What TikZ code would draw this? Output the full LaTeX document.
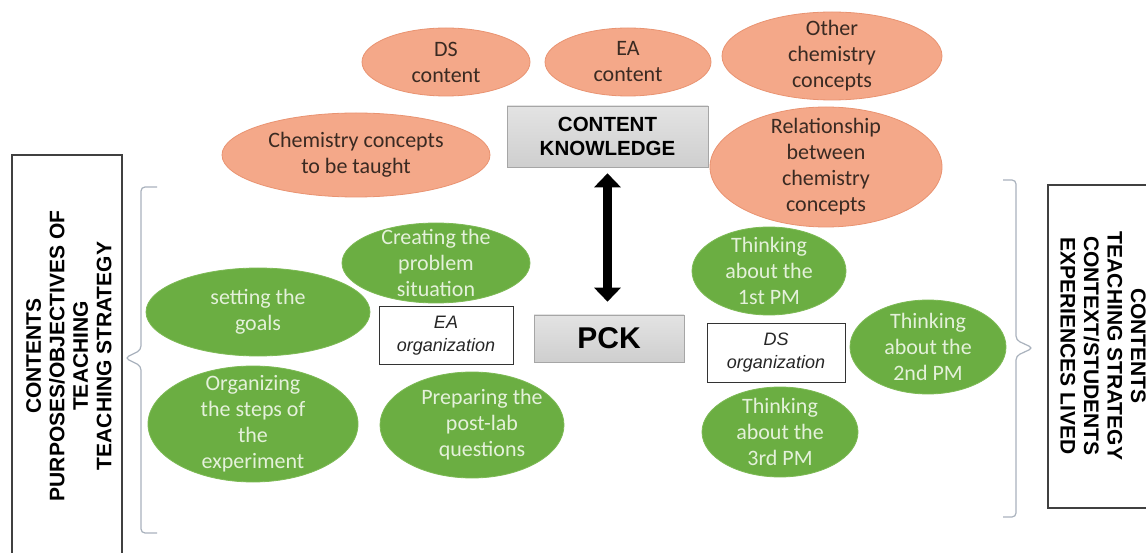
\documentclass[tikz,border=0pt]{standalone}
\usepackage{fontspec}
\setmainfont{Liberation Sans}
\newfontfamily\calib{Carlito}
\usetikzlibrary{shapes.geometric,arrows.meta,calc}
\definecolor{orfill}{HTML}{F4A889}
\definecolor{ordraw}{HTML}{E99371}
\definecolor{ortext}{HTML}{3A2A22}
\definecolor{grfill}{HTML}{6BAE42}
\definecolor{grdraw}{HTML}{7DBA55}
\definecolor{grtext}{HTML}{E4F1DA}
\definecolor{boxgray}{HTML}{C9C9C9}
\definecolor{bracecol}{HTML}{A9B2BD}
\begin{document}
\begin{tikzpicture}[x=1pt,y=-1pt,
 oval/.style={ellipse, inner sep=0pt},
 orov/.style={oval, fill=orfill, draw=ordraw, line width=0.8pt},
 grov/.style={oval, fill=grfill, draw=grdraw, line width=0.8pt},
 ortxt/.style={align=center, text=ortext, inner sep=0pt, font=\calib\fontsize{22}{26}\selectfont},
 grtxt/.style={align=center, text=grtext, inner sep=0pt, font=\calib\fontsize{22}{26}\selectfont},
 graybox/.style={top color=gray!22, bottom color=gray!38, draw=gray!70, line width=0.6pt, inner sep=0pt, align=center, font=\bfseries\fontsize{20.5}{24}\selectfont},
 orgbox/.style={draw=black!80, line width=1pt, fill=white, inner sep=0pt, align=center, text=black!85, font=\itshape\fontsize{18}{23}\selectfont},
 sidetxt/.style={align=center, inner sep=0pt, font=\bfseries\fontsize{21}{23.5}\selectfont},
 frame/.style={draw=black!75, line width=1.1pt},
 bracestyle/.style={draw=bracecol, line width=1.2pt, rounded corners=4pt}
]
\useasboundingbox[fill=white] (0,0) rectangle (1146,553);

% orange ellipses
\node[orov, minimum width=168, minimum height=68] (dsc) at (446,62) {};
\node[ortxt] (dsct) at (dsc) {DS\\content};
\node[orov, minimum width=166, minimum height=68] (eac) at (628,62) {};
\node[ortxt] (eact) at (eac) {EA\\content};
\node[orov, minimum width=220, minimum height=88] (oth) at (832,56) {};
\node[ortxt] (otht) at (oth) {Other\\chemistry\\concepts};
\node[orov, minimum width=268, minimum height=84] (chem) at (356,155) {};
\node[ortxt] (chemt) at (chem) {Chemistry concepts\\to be taught};
\node[orov, minimum width=232, minimum height=120] (rel) at (826,167) {};
\node[ortxt] (relt) at (rel) {Relationship\\between\\chemistry\\concepts};

% green ellipses
\node[grov, minimum width=188, minimum height=80] (cre) at (436,263) {};
\node[grtxt] (cret) at (cre) {Creating the\\problem\\situation};
\node[grov, minimum width=224, minimum height=88] (set) at (258,312) {};
\node[grtxt] (sett) at (set) {setting the\\goals};
\node[grov, minimum width=210, minimum height=116] (org) at (253,424) {};
\node[grtxt] (orgt) at (org) {Organizing\\the steps of\\the\\experiment};
\node[grov, minimum width=184, minimum height=106] (pre) at (472,425) {};
\node[grtxt] (pret) at ([xshift=10pt]pre.center) {Preparing the\\post-lab\\questions};
\node[grov, minimum width=154, minimum height=88] (t1) at (769,271) {};
\node[grtxt] (t1t) at (t1) {Thinking\\about the\\1st PM};
\node[grov, minimum width=156, minimum height=94] (t2) at (928,347) {};
\node[grtxt] (t2t) at (t2) {Thinking\\about the\\2nd PM};
\node[grov, minimum width=156, minimum height=90] (t3) at (780,432) {};
\node[grtxt] (t3t) at (t3) {Thinking\\about the\\3rd PM};

% boxes
\node[graybox, minimum width=201, minimum height=61] (ck) at (607.5,136.5) {CONTENT\\KNOWLEDGE};
\node[graybox, minimum width=150, minimum height=47, font=\bfseries\fontsize{30}{34}\selectfont] (pck) at (609,338.5) {PCK};
\node[orgbox, minimum width=134, minimum height=57] (eaorg) at (446,335.5) {EA\\organization};
\node[orgbox, minimum width=138, minimum height=58] (dsorg) at (776,353) {DS\\organization};

% double arrow
\draw[line width=9pt, {Triangle[width=26pt,length=14pt]}-{Triangle[width=26pt,length=14pt]}]
  ($(ck.south)+(0,6)$) -- ($(ck.south |- pck.north)+(0,-13)$);

% side frames
\draw[frame] (12,560) -- (12,155) -- (122,155) -- (122,560);
\node[sidetxt, rotate=90] (lt) at (69,356) {CONTENTS\\PURPOSES/OBJECTIVES OF\\TEACHING\\TEACHING STRATEGY};
\draw[frame] (1150,185) -- (1048,185) -- (1048,508) -- (1150,508);
\node[sidetxt, rotate=-90] (rt) at (1103,346) {CONTENTS\\TEACHING STRATEGY\\CONTEXT/STUDENTS\\EXPERIENCES LIVED};

% braces
\draw[bracestyle] (157,187) -- (141,187) -- (141,350) -- (125,358) -- (141,366) -- (141,533) -- (157,533);
\draw[bracestyle] (1003,180) -- (1016,180) -- (1016,340) -- (1033,348) -- (1016,356) -- (1016,517) -- (1003,517);
\end{tikzpicture}
\end{document}
